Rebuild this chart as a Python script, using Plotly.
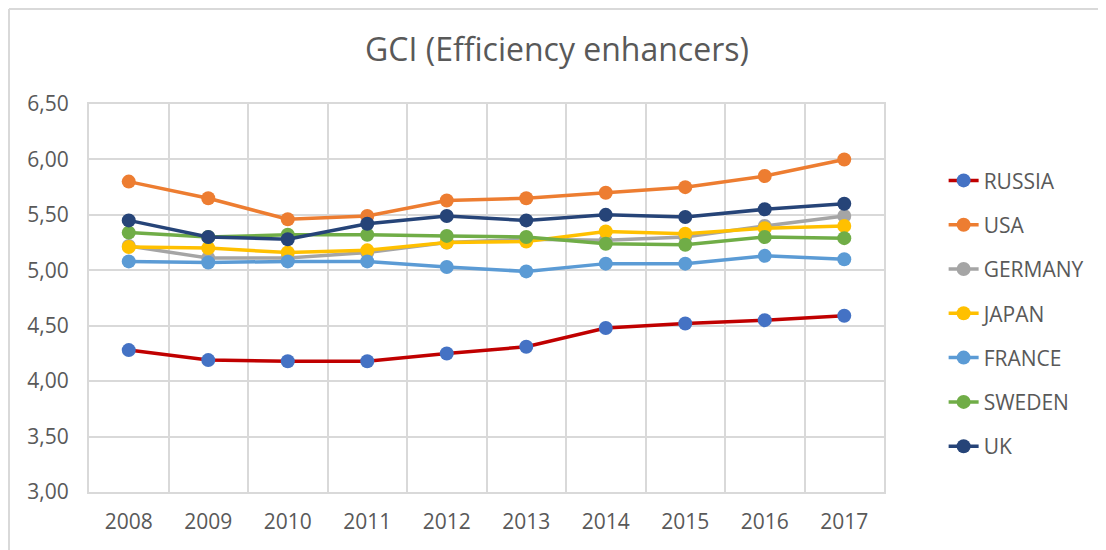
import plotly.graph_objects as go

years = [2008, 2009, 2010, 2011, 2012, 2013, 2014, 2015, 2016, 2017]
russia = [4.28, 4.19, 4.18, 4.18, 4.25, 4.31, 4.48, 4.52, 4.55, 4.59]
usa = [5.80, 5.65, 5.46, 5.49, 5.63, 5.65, 5.70, 5.75, 5.85, 6.00]
germany = [5.22, 5.11, 5.11, 5.16, 5.25, 5.28, 5.27, 5.30, 5.40, 5.49]
japan = [5.21, 5.20, 5.16, 5.18, 5.25, 5.26, 5.35, 5.33, 5.38, 5.40]
france = [5.08, 5.07, 5.08, 5.08, 5.03, 4.99, 5.06, 5.06, 5.13, 5.10]
sweden = [5.34, 5.30, 5.32, 5.32, 5.31, 5.30, 5.24, 5.23, 5.30, 5.29]
uk = [5.45, 5.30, 5.28, 5.42, 5.49, 5.45, 5.50, 5.48, 5.55, 5.60]

series = [
    ("RUSSIA", russia, "#C00000", "#4472C4"),
    ("USA", usa, "#ED7D31", "#ED7D31"),
    ("GERMANY", germany, "#A5A5A5", "#A5A5A5"),
    ("JAPAN", japan, "#FFC000", "#FFC000"),
    ("FRANCE", france, "#5B9BD5", "#5B9BD5"),
    ("SWEDEN", sweden, "#70AD47", "#70AD47"),
    ("UK", uk, "#264478", "#264478"),
]

FONT = "Open Sans"
GRID = "#D9D9D9"
TXT = "#595959"

W, H = 1098, 542
L, T, PW, PH = 81, 96, 795, 388

fig = go.Figure()
for name, vals, lc, mc in series:
    fig.add_trace(go.Scatter(
        x=years, y=vals, name=name, mode="lines+markers",
        line=dict(color=lc, width=3.5),
        marker=dict(color=mc, size=14),
        legendgroup=name,
    ))

half = [y - 0.5 for y in years] + [years[-1] + 0.5]

fig.update_layout(
    width=W, height=H,
    paper_bgcolor="white", plot_bgcolor="white",
    separators=",.",
    margin=dict(l=L, r=W - L - PW, t=T, b=H - T - PH, pad=0),
    title=dict(text="GCI (Efficiency enhancers)", x=0.5, xanchor="center",
               xref="container", y=1 - 42 / H, yanchor="middle",
               font=dict(family=FONT, size=32, color=TXT)),
    font=dict(family=FONT, color=TXT),
    legend=dict(x=1.075, xanchor="left", y=0.855, yanchor="top",
                font=dict(family=FONT, size=21, color=TXT),
                tracegroupgap=14, bgcolor="rgba(0,0,0,0)"),
    showlegend=True,
)
fig.update_xaxes(
    range=[2007.5, 2017.5], tickvals=years, ticktext=[str(y) for y in years],
    showgrid=False, zeroline=False,
    showline=True, mirror=True, linecolor=GRID, linewidth=2,
    minor=dict(tickvals=half, showgrid=True, gridcolor=GRID, gridwidth=2, ticks=""),
    tickfont=dict(family=FONT, size=21, color=TXT),
    ticklabelstandoff=10,
)
fig.update_yaxes(
    range=[3.0, 6.5], dtick=0.5, tick0=3.0, tickformat=".2f",
    showgrid=True, gridcolor=GRID, gridwidth=2, zeroline=False,
    showline=True, mirror=True, linecolor=GRID, linewidth=2,
    tickfont=dict(family=FONT, size=21, color=TXT),
    ticklabelstandoff=14,
)
# outer chart border (left and top edges visible)
fig.add_shape(type="line", xref="paper", yref="paper",
              x0=(-L + 1) / PW, x1=(-L + 1) / PW, y0=-1, y1=(PH + T - 1) / PH,
              line=dict(color=GRID, width=2))
fig.add_shape(type="line", xref="paper", yref="paper",
              x0=(-L + 1) / PW, x1=2, y0=(PH + T - 1) / PH, y1=(PH + T - 1) / PH,
              line=dict(color=GRID, width=2))

fig.write_html("out.html")
